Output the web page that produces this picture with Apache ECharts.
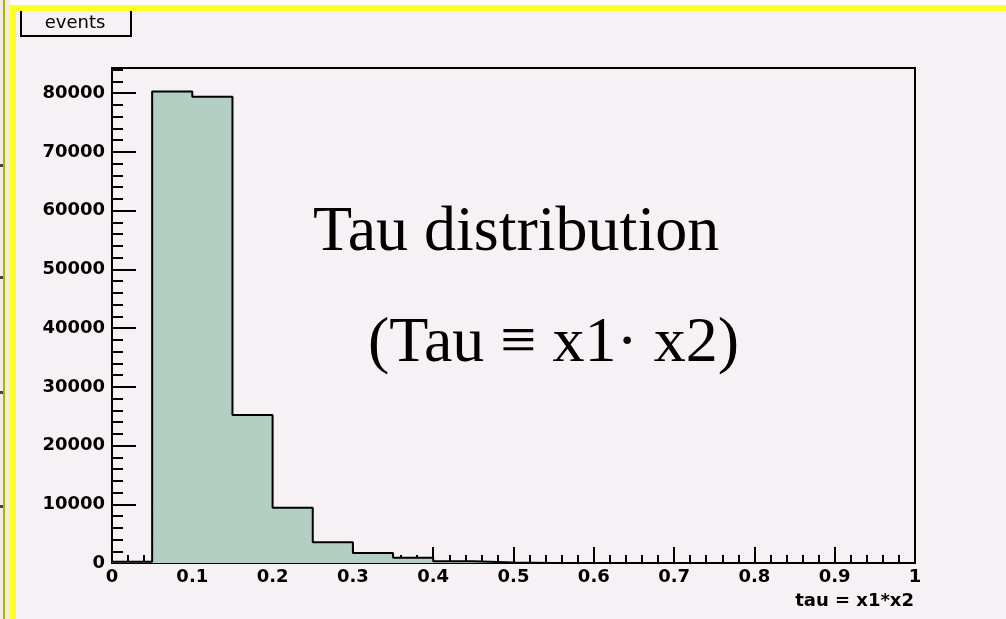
<!DOCTYPE html>
<html>
<head>
<meta charset="utf-8">
<script src="https://cdn.jsdelivr.net/npm/echarts@6/dist/echarts.min.js"></script>
<style>
html,body{margin:0;padding:0;background:#f5f1f5;}
#c{width:1006px;height:619px;}
</style>
</head>
<body>
<div id="c"></div>
<script>
// Histogram: bin left edges (width 0.05) and counts
var binWidth = 0.05;
var binEdges = [0, 0.05, 0.1, 0.15, 0.2, 0.25, 0.3, 0.35, 0.4, 0.45, 0.5, 0.55, 0.6, 0.65, 0.7, 0.75, 0.8, 0.85, 0.9, 0.95];
var binCounts = [200, 80300, 79400, 25200, 9400, 3550, 1700, 900, 300, 100, 0, 0, 0, 0, 0, 0, 0, 0, 0, 0];
var xTicks = [0, 0.1, 0.2, 0.3, 0.4, 0.5, 0.6, 0.7, 0.8, 0.9, 1];
var yTicks = [0, 10000, 20000, 30000, 40000, 50000, 60000, 70000, 80000];
var yMax = 84300;
var titleLine1 = 'Tau distribution';
var titleLine2 = '(Tau \u2261 x1\u00b7 x2)';
var xName = 'tau = x1*x2';
var boxLabel = 'events';

// step-line data: each bin's left edge with its count, plus the right end
var stepData = binEdges.map(function (e, i) { return [e, binCounts[i]]; });
stepData.push([binEdges[binEdges.length - 1] + binWidth, binCounts[binCounts.length - 1]]);

var chart = echarts.init(document.getElementById('c'), null, {renderer: 'canvas'});
var labelFont = {fontFamily: 'DejaVu Sans', fontWeight: 'bold', fontSize: 18, color: '#000'};

chart.setOption({
  backgroundColor: '#f5f1f5',
  animation: false,
  grid: {left: 112, right: 91, top: 68, bottom: 56, show: true, borderColor: '#000', borderWidth: 2, backgroundColor: 'transparent'},
  xAxis: {
    type: 'value', min: xTicks[0], max: xTicks[xTicks.length - 1], interval: 0.1,
    axisLine: {show: true, lineStyle: {color: '#000', width: 2}},
    axisTick: {show: true, inside: true, length: 16, lineStyle: {color: '#000', width: 2}},
    minorTick: {show: true, splitNumber: 5, length: 8, lineStyle: {color: '#000', width: 2}},
    splitLine: {show: false},
    axisLabel: Object.assign({margin: 5, formatter: function (v) { return String(Math.round(v * 10) / 10); }}, labelFont)
  },
  yAxis: {
    type: 'value', min: 0, max: yMax, interval: 10000,
    axisLine: {show: true, lineStyle: {color: '#000', width: 2}},
    axisTick: {show: true, inside: true, length: 24, lineStyle: {color: '#000', width: 2}},
    minorTick: {show: true, splitNumber: 5, length: 11, lineStyle: {color: '#000', width: 2}},
    splitLine: {show: false},
    axisLabel: Object.assign({margin: 7, showMaxLabel: false, formatter: function (v) { return String(v); }}, labelFont)
  },
  series: [{
    type: 'line', step: 'end', data: stepData, symbol: 'none',
    lineStyle: {color: '#000', width: 2},
    areaStyle: {color: '#b3cfc4', opacity: 1},
    z: 1
  }],
  graphic: [
    {type: 'rect', shape: {x: 21, y: 6, width: 110, height: 30}, style: {fill: '#f5f1f5', stroke: '#000', lineWidth: 2}, silent: true},
    {type: 'text', x: 75, y: 23, style: {text: boxLabel, fontFamily: 'DejaVu Sans', fontSize: 18, fill: '#000', align: 'center', verticalAlign: 'middle'}, silent: true},
    {type: 'rect', shape: {x: 0, y: 0, width: 1006, height: 5}, style: {fill: '#fbfbfb'}, silent: true},
    {type: 'rect', shape: {x: 0, y: 0, width: 10, height: 619}, style: {fill: '#eeede6'}, silent: true},
    {type: 'rect', shape: {x: 3, y: 0, width: 2, height: 619}, style: {fill: '#b8b000'}, silent: true},
    {type: 'rect', shape: {x: 10, y: 5, width: 996, height: 6}, style: {fill: '#ffff22'}, silent: true},
    {type: 'rect', shape: {x: 10, y: 5, width: 6, height: 614}, style: {fill: '#ffff22'}, silent: true},
    {type: 'rect', shape: {x: 0, y: 164, width: 3, height: 3}, style: {fill: '#444'}, silent: true},
    {type: 'rect', shape: {x: 0, y: 276, width: 3, height: 3}, style: {fill: '#444'}, silent: true},
    {type: 'rect', shape: {x: 0, y: 391, width: 3, height: 3}, style: {fill: '#444'}, silent: true},
    {type: 'rect', shape: {x: 0, y: 505, width: 3, height: 3}, style: {fill: '#444'}, silent: true},
    {type: 'text', x: 313, y: 233, style: {text: titleLine1, fontFamily: 'Liberation Serif', fontSize: 64, fill: '#000', align: 'left', verticalAlign: 'middle'}, silent: true},
    {type: 'text', x: 368, y: 344, style: {text: titleLine2, fontFamily: 'Liberation Serif', fontSize: 64, fill: '#000', align: 'left', verticalAlign: 'middle'}, silent: true},
    {type: 'text', x: 914, y: 601, style: {text: xName, fontFamily: 'DejaVu Sans', fontWeight: 'bold', fontSize: 18, fill: '#000', align: 'right', verticalAlign: 'middle'}, silent: true}
  ]
});
</script>
</body>
</html>
